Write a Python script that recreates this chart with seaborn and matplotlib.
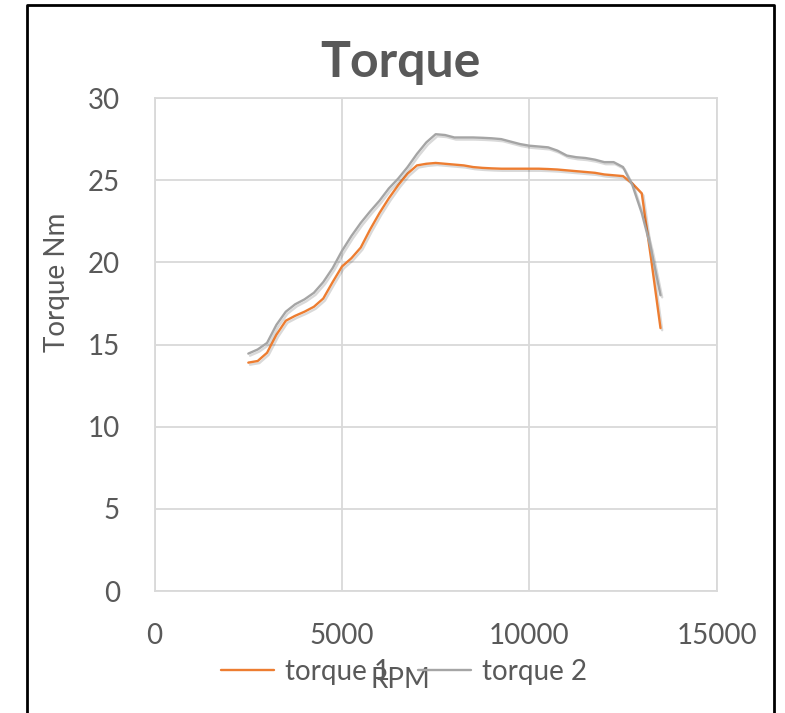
import matplotlib
matplotlib.use("Agg")
import matplotlib.pyplot as plt
import matplotlib.patheffects as pe
from matplotlib.lines import Line2D
import pandas as pd
import seaborn as sns

rpm = [2500, 2750, 3000, 3250, 3500, 3750, 4000, 4250, 4500, 4750, 5000, 5250,
       5500, 5750, 6000, 6250, 6500, 6750, 7000, 7250, 7500, 7750, 8000, 8250,
       8500, 8750, 9000, 9250, 9500, 9750, 10000, 10250, 10500, 10750, 11000,
       11250, 11500, 11750, 12000, 12250, 12500, 12750, 13000, 13250, 13500]
torque1 = [13.9, 14.0, 14.5, 15.6, 16.45, 16.75, 17.0, 17.3, 17.8, 18.8, 19.75, 20.25,
           20.9, 22.0, 23.0, 23.9, 24.7, 25.4, 25.9, 26.0, 26.05, 26.0, 25.95, 25.9,
           25.8, 25.75, 25.72, 25.7, 25.7, 25.7, 25.7, 25.7, 25.68, 25.65, 25.6,
           25.55, 25.5, 25.45, 25.35, 25.3, 25.25, 24.8, 24.2, 20.2, 16.0]
torque2 = [14.45, 14.7, 15.1, 16.2, 17.0, 17.45, 17.75, 18.15, 18.8, 19.65, 20.7, 21.6,
           22.4, 23.1, 23.75, 24.5, 25.1, 25.8, 26.6, 27.3, 27.8, 27.75, 27.6, 27.6,
           27.6, 27.58, 27.55, 27.5, 27.35, 27.2, 27.1, 27.05, 27.0, 26.8, 26.5,
           26.4, 26.35, 26.25, 26.1, 26.1, 25.8, 24.7, 23.0, 20.8, 18.0]
series_names = ["torque 1", "torque 2"]
colors = ["#ED7D31", "#A5A5A5"]

df = pd.DataFrame({
    "RPM": rpm * 2,
    "Torque": torque1 + torque2,
    "series": [series_names[0]] * len(rpm) + [series_names[1]] * len(rpm),
})

sns.set_theme(style="white")
plt.rcParams["font.family"] = ["Lato", "DejaVu Sans"]

txt = "#595959"
fig = plt.figure(figsize=(7.85, 7.13), dpi=100)
ax = fig.add_axes([0.197, 0.171, 0.716, 0.6915])

sns.lineplot(data=df, x="RPM", y="Torque", hue="series", palette=colors,
             linewidth=1.7, ax=ax, legend=False, sort=False)
for ln in ax.get_lines():
    ln.set_solid_joinstyle("round")
    ln.set_path_effects([pe.SimpleLineShadow(offset=(1.2, -1.5), alpha=0.15, shadow_color="black"),
                         pe.Normal()])

ax.set_xlim(0, 15000)
ax.set_ylim(0, 30)
ax.set_xticks([0, 5000, 10000, 15000])
ax.set_yticks([0, 5, 10, 15, 20, 25, 30])
ax.grid(True, color="#d9d9d9", linewidth=1.3)
for s in ax.spines.values():
    s.set_color("#d9d9d9")
    s.set_linewidth(1.3)
ax.tick_params(axis="both", length=0, labelsize=20, labelcolor=txt)
ax.tick_params(axis="y", pad=25)
ax.tick_params(axis="x", pad=23)

ax.set_xlabel("RPM", fontsize=20, color=txt)
ax.xaxis.set_label_coords(0.438, -0.153)
ax.set_ylabel("Torque Nm", fontsize=20, color=txt)
ax.yaxis.set_label_coords(-0.15, 0.627)

fig.text(0.51, 0.913, "Torque", fontsize=36, fontweight="bold", color=txt,
         ha="center", va="center")

handles = [Line2D([], [], color=c, linewidth=1.7) for c in colors]
fig.legend(handles, series_names, loc="center", bbox_to_anchor=(0.515, 0.058),
           ncol=2, frameon=False, fontsize=20, labelcolor=txt,
           handlelength=1.9, handletextpad=0.4, columnspacing=1.0)

# outer border (left, top, right)
fig.add_artist(Line2D([27/785, 27/785, 774/785, 774/785],
                      [0, 1 - 5/713, 1 - 5/713, 0],
                      color="black", linewidth=2, transform=fig.transFigure))

fig.savefig("out.png", dpi=100, facecolor="white")
